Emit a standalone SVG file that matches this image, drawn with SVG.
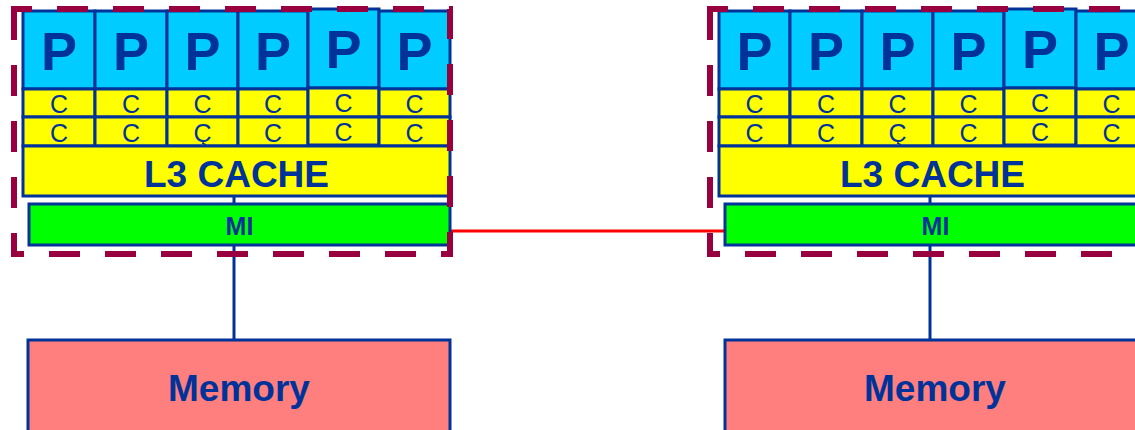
<svg xmlns="http://www.w3.org/2000/svg" width="1135" height="430" viewBox="0 0 1135 430">
  <style>
    .box { stroke: #003399; stroke-width: 3; }
    .p { fill: #00CCFF; }
    .c { fill: #FFFF00; }
    .l3 { fill: #FFFF00; }
    .mi { fill: #00FF00; }
    .mem { fill: #FF7F7F; }
    text { font-family: "Liberation Sans", Arial, sans-serif; fill: #003399; text-anchor: middle; }
    .tp { font-size: 54px; font-weight: bold; }
    .tc { font-size: 25px; }
    .tl3 { font-size: 37px; font-weight: bold; }
    .tmi { font-size: 25px; font-weight: bold; }
    .tmem { font-size: 37px; font-weight: bold; }
    .wire { stroke: #003399; stroke-width: 3; fill: none; }
    .link { stroke: #FF0000; stroke-width: 3; fill: none; }
    .chip { fill: none; stroke: #99003F; stroke-width: 6; stroke-dasharray: 31 25; stroke-dashoffset: 13; }
  </style>

  <!-- connectors -->
  <g id="connectors">
    <line class="wire" x1="234" y1="196" x2="234" y2="340"/>
    <line class="wire" x1="930" y1="196" x2="930" y2="340"/>
    <line class="link" x1="450" y1="231" x2="725" y2="231"/>
  </g>

  <!-- socket 0 -->
  <g id="s0-p1"><rect class="box p" x="23" y="11" width="72" height="78"/><text class="tp" x="59" y="70">P</text></g>
  <g id="s0-p2"><rect class="box p" x="95" y="11" width="72" height="78"/><text class="tp" x="131" y="70">P</text></g>
  <g id="s0-p3"><rect class="box p" x="167" y="11" width="71" height="78"/><text class="tp" x="202.5" y="70">P</text></g>
  <g id="s0-p4"><rect class="box p" x="238" y="11" width="70" height="78"/><text class="tp" x="273" y="70">P</text></g>
  <g id="s0-p5"><rect class="box p" x="308" y="9" width="71" height="79"/><text class="tp" x="343.5" y="68">P</text></g>
  <g id="s0-p6"><rect class="box p" x="379" y="11" width="71" height="78"/><text class="tp" x="414.5" y="70">P</text></g>

  <g id="s0-c1a"><rect class="box c" x="23" y="89" width="72" height="28"/><text class="tc" x="59" y="113">C</text></g>
  <g id="s0-c2a"><rect class="box c" x="95" y="89" width="72" height="28"/><text class="tc" x="131" y="113">C</text></g>
  <g id="s0-c3a"><rect class="box c" x="167" y="89" width="71" height="28"/><text class="tc" x="202.5" y="113">C</text></g>
  <g id="s0-c4a"><rect class="box c" x="238" y="89" width="70" height="28"/><text class="tc" x="273" y="113">C</text></g>
  <g id="s0-c5a"><rect class="box c" x="308" y="88" width="71" height="29"/><text class="tc" x="343.5" y="112">C</text></g>
  <g id="s0-c6a"><rect class="box c" x="379" y="89" width="71" height="28"/><text class="tc" x="414.5" y="113">C</text></g>

  <g id="s0-c1b"><rect class="box c" x="23" y="117" width="72" height="29"/><text class="tc" x="59" y="142">C</text></g>
  <g id="s0-c2b"><rect class="box c" x="95" y="117" width="72" height="29"/><text class="tc" x="131" y="142">C</text></g>
  <g id="s0-c3b"><rect class="box c" x="167" y="117" width="71" height="29"/><text class="tc" x="202.5" y="142">Ç</text></g>
  <g id="s0-c4b"><rect class="box c" x="238" y="117" width="70" height="29"/><text class="tc" x="273" y="142">C</text></g>
  <g id="s0-c5b"><rect class="box c" x="308" y="117" width="71" height="28"/><text class="tc" x="343.5" y="141">C</text></g>
  <g id="s0-c6b"><rect class="box c" x="379" y="117" width="71" height="29"/><text class="tc" x="414.5" y="142">C</text></g>

  <g id="s0-l3"><rect class="box l3" x="23" y="146" width="427" height="50"/><text class="tl3" x="236.5" y="187">L3 CACHE</text></g>
  <g id="s0-mi"><rect class="box mi" x="29" y="204" width="421" height="41"/><text class="tmi" x="239.5" y="235">MI</text></g>
  <g id="s0-mem"><rect class="box mem" x="28" y="340" width="422" height="120"/><text class="tmem" x="239" y="401">Memory</text></g>
  <g id="s0-chip"><rect class="chip" x="14" y="9" width="436" height="245"/></g>

  <!-- socket 1 -->
  <g id="s1-p1"><rect class="box p" x="719" y="11" width="71" height="78"/><text class="tp" x="754.5" y="70">P</text></g>
  <g id="s1-p2"><rect class="box p" x="790" y="11" width="72" height="78"/><text class="tp" x="826" y="70">P</text></g>
  <g id="s1-p3"><rect class="box p" x="862" y="11" width="71" height="78"/><text class="tp" x="897.5" y="70">P</text></g>
  <g id="s1-p4"><rect class="box p" x="933" y="11" width="71" height="78"/><text class="tp" x="968.5" y="70">P</text></g>
  <g id="s1-p5"><rect class="box p" x="1004" y="9" width="72" height="79"/><text class="tp" x="1040" y="68">P</text></g>
  <g id="s1-p6"><rect class="box p" x="1076" y="11" width="71" height="78"/><text class="tp" x="1111.5" y="70">P</text></g>

  <g id="s1-c1a"><rect class="box c" x="719" y="89" width="71" height="28"/><text class="tc" x="754.5" y="113">C</text></g>
  <g id="s1-c2a"><rect class="box c" x="790" y="89" width="72" height="28"/><text class="tc" x="826" y="113">C</text></g>
  <g id="s1-c3a"><rect class="box c" x="862" y="89" width="71" height="28"/><text class="tc" x="897.5" y="113">C</text></g>
  <g id="s1-c4a"><rect class="box c" x="933" y="89" width="71" height="28"/><text class="tc" x="968.5" y="113">C</text></g>
  <g id="s1-c5a"><rect class="box c" x="1004" y="88" width="72" height="29"/><text class="tc" x="1040" y="112">C</text></g>
  <g id="s1-c6a"><rect class="box c" x="1076" y="89" width="71" height="28"/><text class="tc" x="1111.5" y="113">C</text></g>

  <g id="s1-c1b"><rect class="box c" x="719" y="117" width="71" height="29"/><text class="tc" x="754.5" y="142">C</text></g>
  <g id="s1-c2b"><rect class="box c" x="790" y="117" width="72" height="29"/><text class="tc" x="826" y="142">C</text></g>
  <g id="s1-c3b"><rect class="box c" x="862" y="117" width="71" height="29"/><text class="tc" x="897.5" y="142">Ç</text></g>
  <g id="s1-c4b"><rect class="box c" x="933" y="117" width="71" height="29"/><text class="tc" x="968.5" y="142">C</text></g>
  <g id="s1-c5b"><rect class="box c" x="1004" y="117" width="72" height="28"/><text class="tc" x="1040" y="141">C</text></g>
  <g id="s1-c6b"><rect class="box c" x="1076" y="117" width="71" height="29"/><text class="tc" x="1111.5" y="142">C</text></g>

  <g id="s1-l3"><rect class="box l3" x="719" y="146" width="428" height="50"/><text class="tl3" x="932.5" y="187">L3 CACHE</text></g>
  <g id="s1-mi"><rect class="box mi" x="725" y="204" width="422" height="41"/><text class="tmi" x="935.5" y="235">MI</text></g>
  <g id="s1-mem"><rect class="box mem" x="725" y="340" width="422" height="120"/><text class="tmem" x="935" y="401">Memory</text></g>
  <g id="s1-chip"><rect class="chip" x="710" y="9" width="436" height="245"/></g>
</svg>
